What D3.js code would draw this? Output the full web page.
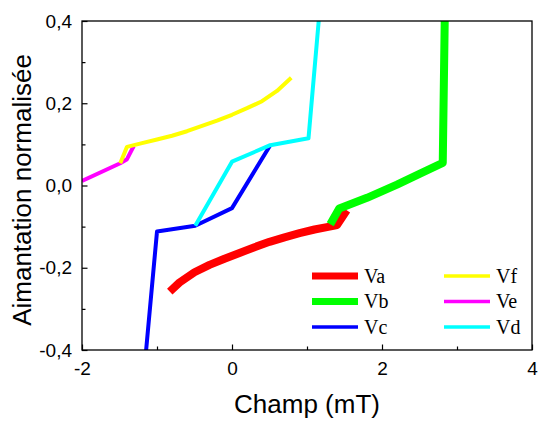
<!DOCTYPE html>
<html>
<head>
<meta charset="utf-8">
<script src="https://cdn.jsdelivr.net/npm/d3@7"></script>
<style>
  body { margin: 0; background: #fff; }
  svg { display: block; }
</style>
</head>
<body>
<svg width="538" height="423"></svg>
<script>
// field (mT) / normalised magnetisation
var va = [[-0.83,-0.258],[-0.7,-0.236],[-0.5,-0.211],[-0.3,-0.193],[-0.1,-0.178],[0.1,-0.164],[0.3,-0.150],
          [0.5,-0.137],[0.7,-0.126],[0.9,-0.116],[1.1,-0.107],[1.3,-0.100],[1.40,-0.096],[1.53,-0.060]];
var vb = [[1.31,-0.094],[1.43,-0.056],[1.8,-0.030],[2.2,0.002],[2.5,0.028],[2.81,0.055],[2.84,0.45]];
var vc = [[-1.17,-0.45],[-1.00,-0.112],[-0.49,-0.098],[0.00,-0.055],[0.51,0.098]];
var vd = [[-0.49,-0.098],[0.00,0.058],[0.51,0.098],[1.02,0.115],[1.18,0.45]];
var ve = [[-2.00,0.011],[-1.49,0.054],[-1.40,0.064],[-1.31,0.096]];
var vf = [[-1.49,0.054],[-1.40,0.094],[-1.2,0.103],[-1.0,0.112],[-0.8,0.121],[-0.6,0.132],[-0.4,0.145],
          [-0.2,0.158],[0.0,0.172],[0.2,0.188],[0.4,0.205],[0.6,0.230],[0.79,0.262]];

var seriesNames = ["Va", "Vb", "Vc", "Vf", "Ve", "Vd"];
var xTicks = [-2, 0, 2, 4];
var yTicks = [-0.4, -0.2, 0.0, 0.2, 0.4];

(function() {
    var svg = d3.select("svg");
    var left = 82, right = 532, top = 21, bottom = 350;
    var sans = "Liberation Sans, Arial, sans-serif";

    var x = d3.scaleLinear().domain([-2, 4]).range([left, right]);
    var y = d3.scaleLinear().domain([-0.4, 0.4]).range([bottom, top]);

    var series = [
        {name: "Va", data: va, color: "#ff0000", w: 8},
        {name: "Vb", data: vb, color: "#00ff00", w: 8},
        {name: "Vc", data: vc, color: "#0000ff", w: 4},
        {name: "Vd", data: vd, color: "#00ffff", w: 4},
        {name: "Ve", data: ve, color: "#ff00ff", w: 4},
        {name: "Vf", data: vf, color: "#ffff00", w: 4}
    ];
    var byName = {};
    series.forEach(function(s) { byName[s.name] = s; });

    svg.append("clipPath").attr("id", "clip")
      .append("rect").attr("x", left).attr("y", top)
        .attr("width", right - left).attr("height", bottom - top);

    var line = d3.line()
        .x(function(d) { return x(d[0]); })
        .y(function(d) { return y(d[1]); });

    var order = ["Va", "Vb", "Ve", "Vf", "Vc", "Vd"];
    svg.append("g").attr("clip-path", "url(#clip)")
      .selectAll("path")
      .data(order.map(function(n) { return byName[n]; }))
      .enter().append("path")
        .attr("d", function(s) { return line(s.data); })
        .attr("fill", "none")
        .attr("stroke", function(s) { return s.color; })
        .attr("stroke-width", function(s) { return s.w; })
        .attr("stroke-linejoin", "round");

    // frame
    svg.append("rect")
        .attr("x", left).attr("y", top)
        .attr("width", right - left).attr("height", bottom - top)
        .attr("fill", "none").attr("stroke", "#000").attr("stroke-width", 1.3);

    var fmt = function(p) {
        return function(d) { return d3.format(p)(d).replace(".", ",").replace("\u2212", "-"); };
    };

    // ticks (inward)
    var gx = svg.append("g").attr("transform", "translate(0," + bottom + ")")
      .call(d3.axisBottom(x).tickValues(xTicks).tickSizeInner(-5.5).tickSizeOuter(0).tickPadding(12).tickFormat(fmt("d")));
    svg.append("g").attr("transform", "translate(0," + bottom + ")")
      .call(d3.axisBottom(x).tickValues([-1, 1, 3]).tickSizeInner(-3.5).tickSizeOuter(0).tickFormat(""));

    var gy = svg.append("g").attr("transform", "translate(" + left + ",0)")
      .call(d3.axisLeft(y).tickValues(yTicks).tickSizeInner(-5.5).tickSizeOuter(0).tickPadding(10).tickFormat(fmt(".1f")));
    svg.append("g").attr("transform", "translate(" + left + ",0)")
      .call(d3.axisLeft(y).tickValues([-0.3, -0.1, 0.1, 0.3]).tickSizeInner(-3.5).tickSizeOuter(0).tickFormat(""));

    svg.selectAll(".domain").remove();
    svg.selectAll(".tick line").attr("stroke", "#000").attr("stroke-width", 1.2);
    svg.selectAll(".tick text").attr("font-family", sans).attr("font-size", 19).attr("fill", "#000");

    // axis titles
    svg.append("text")
        .attr("x", (left + right) / 2).attr("y", 413)
        .attr("text-anchor", "middle")
        .attr("font-family", sans).attr("font-size", 26)
        .text("Champ (mT)");
    svg.append("text")
        .attr("transform", "translate(31,190) rotate(-90)")
        .attr("text-anchor", "middle")
        .attr("font-family", sans).attr("font-size", 26)
        .text("Aimantation normalisée");

    // legend
    var legend = svg.selectAll(".legend")
        .data(seriesNames.map(function(n) { return byName[n]; }))
        .enter().append("g")
          .attr("class", "legend")
          .attr("transform", function(d, i) {
              var col = Math.floor(i / 3), row = i % 3;
              return "translate(" + (312 + col * 132) + "," + (276 + row * 25.5) + ")";
          });
    legend.append("line")
        .attr("x1", 0).attr("x2", 46)
        .attr("stroke", function(d) { return d.color; })
        .attr("stroke-width", function(d) { return d.w === 8 ? 7 : 3.5; });
    legend.append("text")
        .attr("x", 52).attr("y", 6.5)
        .attr("font-family", "Liberation Serif, Times New Roman, serif").attr("font-size", 20)
        .text(function(d) { return d.name; });
})();
</script>
</body>
</html>
